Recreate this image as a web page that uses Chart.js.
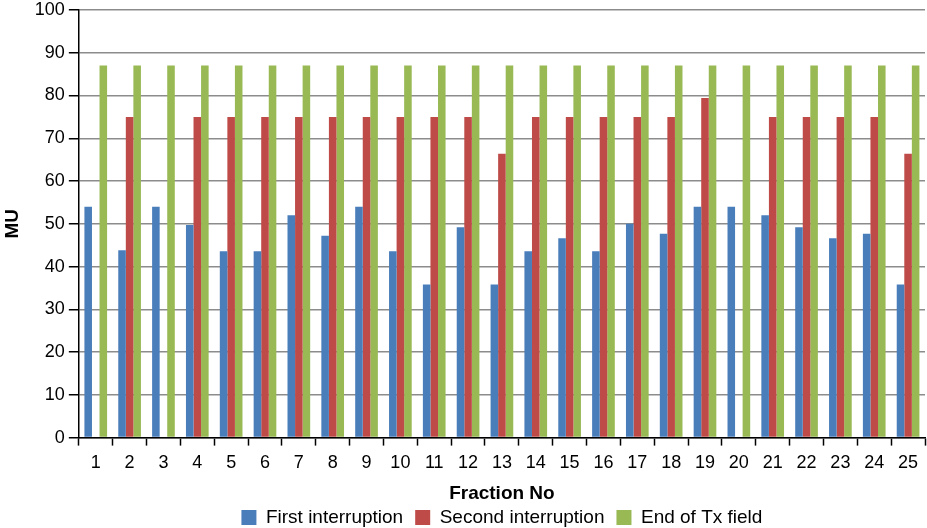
<!DOCTYPE html>
<html>
<head>
<meta charset="utf-8">
<script src="https://cdn.jsdelivr.net/npm/chart.js@4"></script>
<style>
  body { margin: 0; background: #fff; }
  #wrap { width: 927px; height: 528px; }
</style>
</head>
<body>
<div id="wrap"><canvas id="mu-chart" width="927" height="528"></canvas></div>
<script>
const fractions = ['1','2','3','4','5','6','7','8','9','10','11','12','13','14','15','16','17','18','19','20','21','22','23','24','25'];
const firstInterruption = [54, 43.8, 54, 49.7, 43.6, 43.6, 52, 47.2, 54, 43.6, 35.8, 49.2, 35.8, 43.6, 46.6, 43.6, 50, 47.7, 54, 54, 52, 49.2, 46.6, 47.7, 35.8];
const secondInterruption = [null, 75, null, 75, 75, 75, 75, 75, 75, 75, 75, 75, 66.4, 75, 75, 75, 75, 75, 79.4, null, 75, 75, 75, 75, 66.4];
const endOfTxField = [87, 87, 87, 87, 87, 87, 87, 87, 87, 87, 87, 87, 87, 87, 87, 87, 87, 87, 87, 87, 87, 87, 87, 87, 87];
const yTicks = [0, 10, 20, 30, 40, 50, 60, 70, 80, 90, 100];

const font = 'Liberation Sans, Arial, Helvetica, sans-serif';

function makeSet(label, data, color) {
    return {
        label: label,
        data: data,
        backgroundColor: color,
        borderWidth: 0,
        barPercentage: 1,
        categoryPercentage: 0.67
    };
}

// legend padding is used both between items and above them; pull the row up
// so items can stay spread out, and center it under the plot like the title
const legendLift = {
    id: 'legendLift',
    afterLayout(chart) {
        const lg = chart.legend;
        const area = chart.chartArea;
        const dx = (area.left + area.right) / 2 - (lg.left + lg.right) / 2;
        lg.top -= 9;
        lg.bottom -= 9;
        lg.left += dx;
        lg.right += dx;
    }
};

new Chart(document.getElementById('mu-chart'), {
    type: 'bar',
    data: {
        labels: fractions,
        datasets: [
            makeSet('First interruption', firstInterruption, '#4a7ebb'),
            makeSet('Second interruption', secondInterruption, '#be4b48'),
            makeSet('End of Tx field', endOfTxField, '#98b954')
        ]
    },
    plugins: [legendLift],
    options: {
        responsive: false,
        animation: false,
        devicePixelRatio: 1,
        layout: { padding: { top: 0, right: 2, left: 0, bottom: -18 } },
        plugins: {
            legend: {
                position: 'bottom',
                labels: {
                    color: '#000',
                    font: { family: font, size: 19 },
                    boxWidth: 15,
                    boxHeight: 15,
                    padding: 12
                }
            },
            tooltip: { enabled: false }
        },
        scales: {
            x: {
                offset: true,
                grid: {
                    offset: true,
                    drawOnChartArea: false,
                    drawTicks: true,
                    tickLength: 8,
                    tickColor: '#000',
                    tickWidth: 1.5
                },
                border: { color: '#000', width: 1.5 },
                ticks: {
                    color: '#000',
                    font: { family: font, size: 18 },
                    padding: 7,
                    maxRotation: 0,
                    autoSkip: false
                },
                title: {
                    display: true,
                    text: 'Fraction No',
                    color: '#000',
                    font: { family: font, size: 19, weight: 'bold' },
                    padding: { top: 1, bottom: 0 }
                }
            },
            y: {
                min: 0,
                max: 100,
                afterBuildTicks: function (axis) {
                    axis.ticks = yTicks.map(v => ({ value: v }));
                },
                afterFit: function (axis) {
                    axis.paddingTop = 10;
                },
                grid: {
                    color: '#8c8c8c',
                    lineWidth: 1.5,
                    tickLength: 10,
                    tickColor: '#000'
                },
                border: { color: '#000', width: 1.5 },
                ticks: {
                    color: '#000',
                    font: { family: font, size: 18 },
                    padding: 4
                },
                title: {
                    display: true,
                    text: 'MU',
                    color: '#000',
                    font: { family: font, size: 19, weight: 'bold' },
                    padding: { top: 1, bottom: 7 }
                }
            }
        }
    }
});
</script>
</body>
</html>
